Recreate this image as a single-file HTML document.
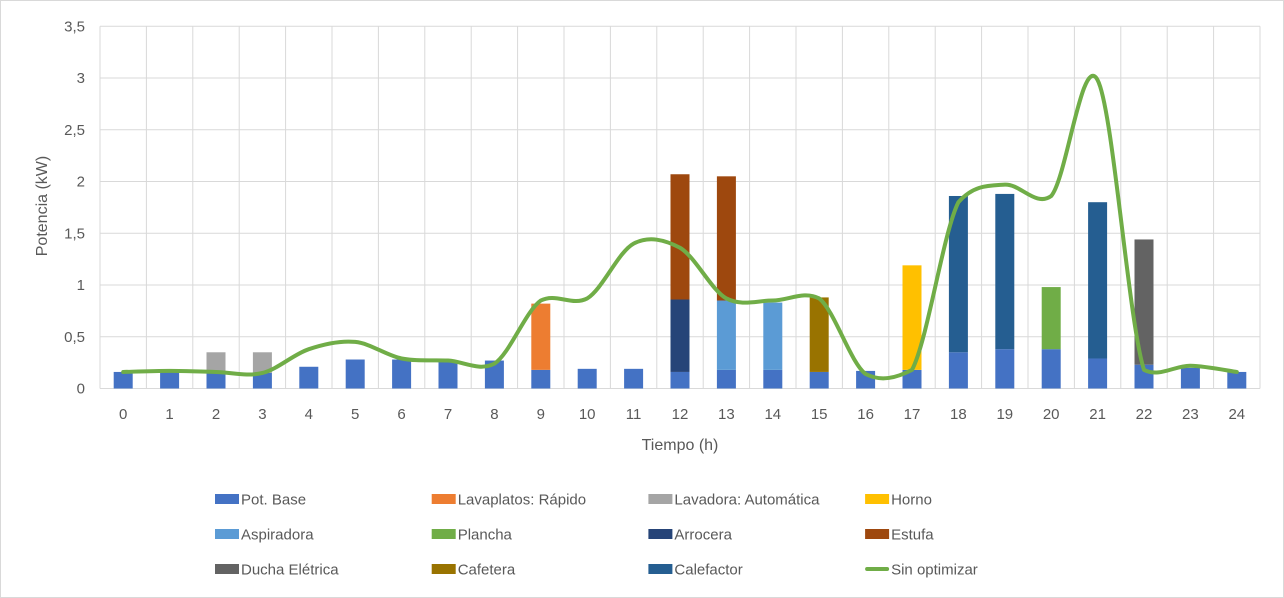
<!DOCTYPE html>
<html><head><meta charset="utf-8">
<style>
html,body{margin:0;padding:0;background:#fff;}
#wrap{position:relative;width:1284px;height:598px;overflow:hidden;font-family:"Liberation Sans",Arial,sans-serif;}
svg text{font-family:"Liberation Sans",Arial,sans-serif;fill:#595959;}
</style></head>
<body>
<div id="wrap">
<svg id="chart" width="1284" height="598"></svg>
</div>
<script>
const hours = [0,1,2,3,4,5,6,7,8,9,10,11,12,13,14,15,16,17,18,19,20,21,22,23,24];
const seriesNames = ["Pot. Base","Lavaplatos: Rápido","Lavadora: Automática","Horno","Aspiradora","Plancha","Arrocera","Estufa","Ducha Elétrica","Cafetera","Calefactor"];
const potBase =    [0.16,0.16,0.15,0.15,0.21,0.28,0.28,0.26,0.27,0.18,0.19,0.19,0.16,0.18,0.18,0.16,0.17,0.18,0.35,0.38,0.38,0.29,0.23,0.2,0.16];
const lavaplatos = [0,0,0,0,0,0,0,0,0,0.64,0,0,0,0,0,0,0,0,0,0,0,0,0,0,0];
const lavadora =   [0,0,0.2,0.2,0,0,0,0,0,0,0,0,0,0,0,0,0,0,0,0,0,0,0,0,0];
const horno =      [0,0,0,0,0,0,0,0,0,0,0,0,0,0,0,0,0,1.01,0,0,0,0,0,0,0];
const aspiradora = [0,0,0,0,0,0,0,0,0,0,0,0,0,0.67,0.65,0,0,0,0,0,0,0,0,0,0];
const plancha =    [0,0,0,0,0,0,0,0,0,0,0,0,0,0,0,0,0,0,0,0,0.6,0,0,0,0];
const arrocera =   [0,0,0,0,0,0,0,0,0,0,0,0,0.7,0,0,0,0,0,0,0,0,0,0,0,0];
const estufa =     [0,0,0,0,0,0,0,0,0,0,0,0,1.21,1.2,0,0,0,0,0,0,0,0,0,0,0];
const ducha =      [0,0,0,0,0,0,0,0,0,0,0,0,0,0,0,0,0,0,0,0,0,0,1.21,0,0];
const cafetera =   [0,0,0,0,0,0,0,0,0,0,0,0,0,0,0,0.72,0,0,0,0,0,0,0,0,0];
const calefactor = [0,0,0,0,0,0,0,0,0,0,0,0,0,0,0,0,0,0,1.51,1.5,0,1.51,0,0,0];
const sinOptimizar = [0.16,0.17,0.16,0.15,0.38,0.45,0.29,0.27,0.24,0.85,0.87,1.4,1.36,0.87,0.85,0.87,0.14,0.18,1.8,1.97,1.86,2.98,0.18,0.22,0.16];
const yTicks = ["0","0,5","1","1,5","2","2,5","3","3,5"];
const yTickValues = [0,0.5,1,1.5,2,2.5,3,3.5];
const colors = ["#4472C4","#ED7D31","#A5A5A5","#FFC000","#5B9BD5","#70AD47","#264478","#9E480E","#636363","#997300","#255E91"];
const stackData = [potBase,lavaplatos,lavadora,horno,aspiradora,plancha,arrocera,estufa,ducha,cafetera,calefactor];

const NS="http://www.w3.org/2000/svg";
const svg=document.getElementById('chart');
const plotL=100, plotR=1260, y0=388.5, unit=103.5, step=(plotR-plotL)/25;
function xs(i){return plotL+step*(i+0.5);}
function ys(v){return y0-v*unit;}
function mk(tag,attrs){const e=document.createElementNS(NS,tag);for(const k in attrs)e.setAttribute(k,attrs[k]);svg.appendChild(e);return e;}

const border=mk('rect',{x:0.5,y:0.5,width:1283,height:597,fill:'#fff',stroke:'#D9D9D9'});



yTickValues.forEach((v,i)=>{
  const g=mk('line',{x1:plotL,x2:plotR,y1:ys(v),y2:ys(v),stroke:'#D9D9D9','stroke-width':1});
  
  
  const t=mk('text',{x:85,y:ys(v)+5,'text-anchor':'end','font-size':15});
  t.textContent=yTicks[i];
  
  
});
for(let i=0;i<=hours.length;i++){
  const x=plotL+step*i;
  const g=mk('line',{x1:x,x2:x,y1:ys(3.5),y2:y0,stroke:'#D9D9D9','stroke-width':1});
  
  
}
hours.forEach((h,i)=>{
  const t=mk('text',{x:xs(i),y:419,'text-anchor':'middle','font-size':15});
  t.textContent=h;
  
  
});
const bw=19;
hours.forEach((h,i)=>{
  let acc=0;
  stackData.forEach((arr,s)=>{
    const v=arr[i]; if(!v) return;
    const r=mk('rect',{x:xs(i)-bw/2,y:ys(acc+v),width:bw,height:v*unit,fill:colors[s]});
    
    
    acc+=v;
  });
});
// smooth line (Catmull-Rom with limited overshoot)
const pts=sinOptimizar.map((v,i)=>[xs(i),ys(v)]);
function capDy(dy,seg){const m=Math.max(Math.abs(seg),8);return Math.max(-m,Math.min(m,dy));}
let d='M'+pts[0][0]+','+pts[0][1];
for(let i=0;i<pts.length-1;i++){
  const p0=pts[Math.max(0,i-1)],p1=pts[i],p2=pts[i+1],p3=pts[Math.min(pts.length-1,i+2)];
  const t=1/6, seg=p2[1]-p1[1];
  const c1=[p1[0]+(p2[0]-p0[0])*t,p1[1]+capDy((p2[1]-p0[1])*t,seg)];
  const c2=[p2[0]-(p3[0]-p1[0])*t,p2[1]-capDy((p3[1]-p1[1])*t,seg)];
  d+=` C${c1[0]},${c1[1]} ${c2[0]},${c2[1]} ${p2[0]},${p2[1]}`;
}
const line=mk('path',{d:d,fill:'none',stroke:'#70AD47','stroke-width':4,'stroke-linecap':'round','stroke-linejoin':'round'});



const yt=mk('text',{x:0,y:0,'text-anchor':'middle','font-size':16,transform:'translate(47,206) rotate(-90)'});
yt.textContent='Potencia (kW)';


const xt=mk('text',{x:680,y:450,'text-anchor':'middle','font-size':16});
xt.textContent='Tiempo (h)';



const legendNames=["Pot. Base","Lavaplatos: Rápido","Lavadora: Automática","Horno","Aspiradora","Plancha","Arrocera","Estufa","Ducha Elétrica","Cafetera","Calefactor","Sin optimizar"];
const legendColors=["#4472C4","#ED7D31","#A5A5A5","#FFC000","#5B9BD5","#70AD47","#264478","#9E480E","#636363","#997300","#255E91","#70AD47"];
legendNames.forEach((n,k)=>{
  const col=k%4,row=Math.floor(k/4);
  const x=215+col*216.7, y=499+row*35;
  let sw;
  if(k===11){
    sw=mk('line',{x1:x+2,x2:x+22,y1:y,y2:y,stroke:legendColors[k],'stroke-width':4,'stroke-linecap':'round'});
  } else {
    sw=mk('rect',{x:x,y:y-5,width:24,height:10,fill:legendColors[k]});
  }
  
  
  const t=mk('text',{x:x+26,y:y+5.5,'font-size':15});
  t.textContent=n;
  
  
});
</script>
</body></html>
